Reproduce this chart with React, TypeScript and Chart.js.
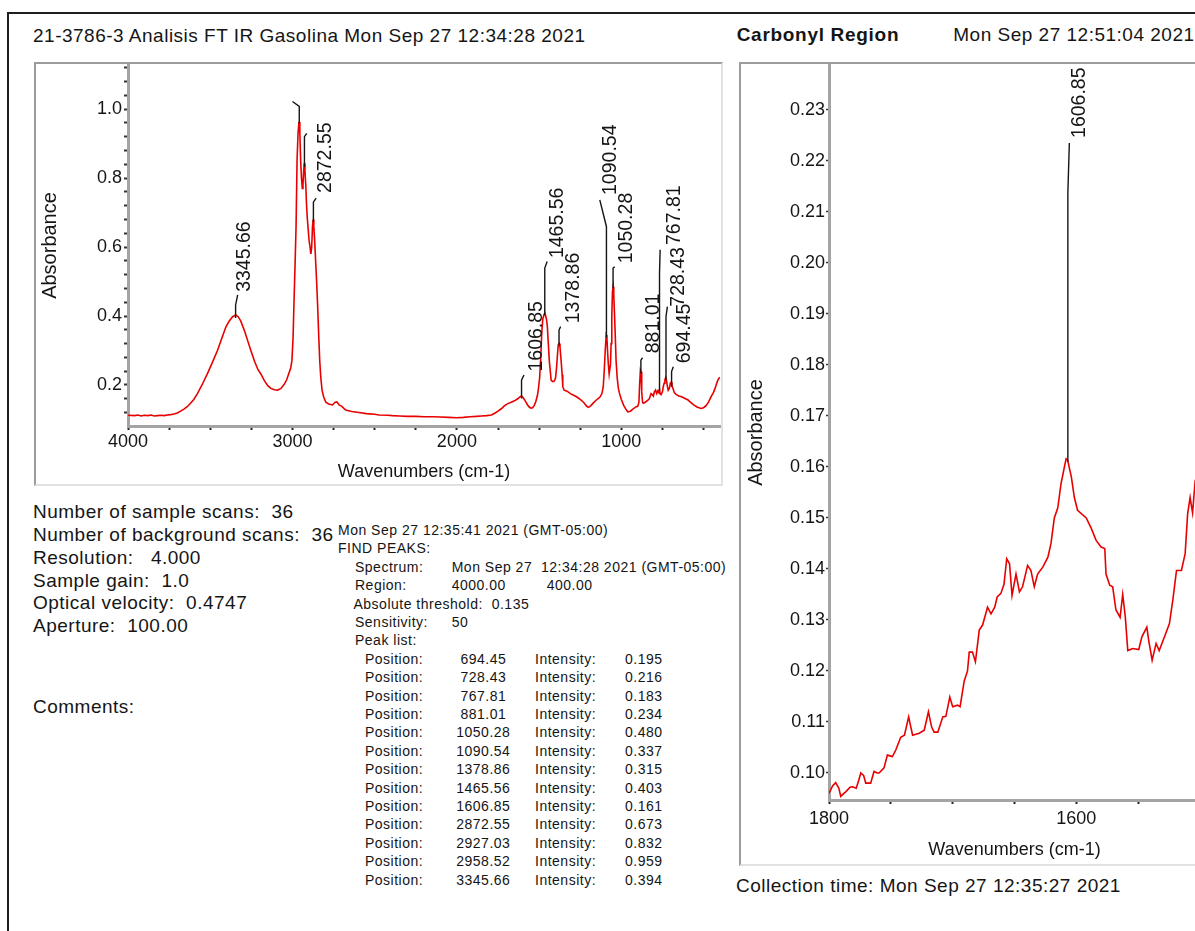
import React, { useEffect, useRef } from 'react';
import { Chart, registerables } from 'chart.js';

Chart.register(...registerables);

const FONT = 'Arial, "Liberation Sans", Helvetica, sans-serif';
Chart.defaults.font.family = FONT;

// ---------- Main spectrum (wavenumber cm-1, absorbance) ----------
const mainSpectrum: [number, number][] = [
  [4000, 0.112], [3960, 0.111], [3940, 0.113], [3920, 0.110], [3900, 0.112], [3880, 0.111],
  [3860, 0.113], [3840, 0.110], [3820, 0.111], [3800, 0.112], [3780, 0.111], [3760, 0.113],
  [3740, 0.114], [3720, 0.116], [3700, 0.119], [3680, 0.124], [3660, 0.130], [3640, 0.137],
  [3620, 0.147], [3600, 0.158], [3578, 0.175], [3550, 0.200], [3517, 0.233], [3490, 0.262],
  [3456, 0.300], [3430, 0.335], [3405, 0.368], [3385, 0.385], [3364, 0.398], [3345, 0.403],
  [3330, 0.398], [3314, 0.385], [3290, 0.355], [3270, 0.325], [3253, 0.300], [3230, 0.268],
  [3210, 0.245], [3192, 0.232], [3170, 0.212], [3150, 0.198], [3131, 0.190], [3110, 0.186],
  [3090, 0.185], [3070, 0.190], [3050, 0.202], [3035, 0.215], [3020, 0.236], [3010, 0.250],
  [3003, 0.272], [2996, 0.340], [2990, 0.450], [2984, 0.550], [2978, 0.660], [2972, 0.850],
  [2966, 0.930], [2960, 0.963], [2955, 0.930], [2950, 0.850], [2945, 0.800], [2940, 0.770],
  [2936, 0.780], [2932, 0.820], [2928, 0.843], [2924, 0.820], [2919, 0.780], [2914, 0.720],
  [2909, 0.680], [2904, 0.650], [2899, 0.620], [2893, 0.600], [2888, 0.580], [2883, 0.600],
  [2878, 0.660], [2874, 0.680], [2870, 0.660], [2865, 0.620], [2858, 0.550], [2852, 0.490],
  [2846, 0.420], [2840, 0.340], [2834, 0.270], [2828, 0.224], [2820, 0.185], [2810, 0.165],
  [2797, 0.150], [2780, 0.145], [2757, 0.142], [2740, 0.150], [2730, 0.151], [2716, 0.142],
  [2700, 0.138], [2676, 0.127], [2640, 0.123], [2595, 0.120], [2550, 0.117], [2500, 0.115],
  [2474, 0.113], [2420, 0.112], [2393, 0.111], [2350, 0.110], [2300, 0.109], [2250, 0.109],
  [2200, 0.108], [2150, 0.108], [2100, 0.107], [2050, 0.106], [2000, 0.105], [1960, 0.106],
  [1920, 0.108], [1880, 0.109], [1850, 0.110], [1820, 0.111], [1790, 0.113], [1770, 0.118],
  [1750, 0.124], [1730, 0.131], [1710, 0.140], [1690, 0.146], [1670, 0.150], [1650, 0.154],
  [1630, 0.160], [1615, 0.166], [1607, 0.168], [1600, 0.165], [1590, 0.158], [1580, 0.150],
  [1570, 0.142], [1560, 0.136], [1550, 0.133], [1540, 0.134], [1530, 0.140], [1520, 0.152],
  [1510, 0.170], [1504, 0.190], [1497, 0.220], [1490, 0.280], [1484, 0.350], [1478, 0.390],
  [1470, 0.405], [1465, 0.408], [1460, 0.400], [1455, 0.390], [1450, 0.370], [1444, 0.320],
  [1438, 0.270], [1432, 0.240], [1427, 0.214], [1418, 0.210], [1408, 0.211], [1400, 0.220],
  [1394, 0.250], [1388, 0.290], [1384, 0.315], [1379, 0.320], [1373, 0.310], [1366, 0.270],
  [1360, 0.230], [1356, 0.195], [1348, 0.185], [1330, 0.182], [1310, 0.175], [1290, 0.170],
  [1270, 0.165], [1250, 0.158], [1230, 0.150], [1210, 0.138], [1200, 0.135], [1185, 0.140],
  [1170, 0.148], [1155, 0.155], [1143, 0.160], [1130, 0.165], [1118, 0.175], [1110, 0.195],
  [1104, 0.240], [1098, 0.300], [1092, 0.345], [1088, 0.340], [1084, 0.300], [1079, 0.260],
  [1074, 0.232], [1070, 0.232], [1066, 0.260], [1062, 0.320], [1058, 0.400], [1054, 0.470],
  [1050, 0.485], [1046, 0.460], [1041, 0.400], [1036, 0.330], [1032, 0.270], [1025, 0.220],
  [1018, 0.190], [1012, 0.177], [1000, 0.158], [985, 0.140], [970, 0.128], [961, 0.122],
  [945, 0.124], [930, 0.130], [910, 0.137], [900, 0.138], [893, 0.150], [889, 0.200],
  [884, 0.243], [880, 0.238], [876, 0.180], [871, 0.150], [866, 0.147], [855, 0.150],
  [840, 0.155], [830, 0.160], [819, 0.175], [812, 0.172], [805, 0.168], [799, 0.180],
  [792, 0.185], [785, 0.175], [778, 0.183], [772, 0.178], [768, 0.187], [764, 0.175],
  [758, 0.172], [750, 0.180], [745, 0.195], [740, 0.205], [735, 0.215], [730, 0.222],
  [726, 0.215], [720, 0.196], [715, 0.185], [708, 0.190], [702, 0.205], [696, 0.208],
  [692, 0.198], [686, 0.190], [677, 0.177], [665, 0.172], [650, 0.168], [630, 0.165],
  [610, 0.160], [596, 0.157], [580, 0.150], [560, 0.142], [540, 0.136], [515, 0.132],
  [500, 0.134], [485, 0.140], [470, 0.150], [454, 0.166], [440, 0.178], [430, 0.190],
  [420, 0.205], [413, 0.214], [405, 0.220], [400, 0.222],
];

// ---------- Carbonyl region (1800-1500 cm-1) ----------
const carbonylSpectrum: [number, number][] = [
  [1800, 0.0960], [1797, 0.0975], [1794.6, 0.0981], [1792, 0.0970], [1790.5, 0.0954], [1788, 0.0960],
  [1786.5, 0.0963], [1783, 0.0972], [1781, 0.0973], [1778, 0.0970], [1776, 0.0985], [1774.3, 0.1000],
  [1772, 0.0995], [1770.3, 0.0980], [1766.3, 0.0980], [1763.6, 0.1003], [1761, 0.1000], [1759.5, 0.1000],
  [1755.5, 0.1010], [1752.8, 0.1035], [1750, 0.1033], [1748.7, 0.1032], [1746, 0.1045], [1742, 0.1070],
  [1739, 0.1074], [1735.6, 0.1110], [1732.4, 0.1074], [1727, 0.1078], [1723, 0.1084], [1719.6, 0.1120],
  [1717, 0.1090], [1715, 0.1080], [1712, 0.1080], [1708, 0.1110], [1705.5, 0.1111], [1702.3, 0.1149],
  [1700, 0.1130], [1696, 0.1133], [1694, 0.1130], [1690.7, 0.1180], [1688, 0.1200], [1686.6, 0.1237],
  [1684, 0.1237], [1681.6, 0.1218], [1678.5, 0.1280], [1675.8, 0.1290], [1671.8, 0.1325], [1669, 0.1312],
  [1666, 0.1325], [1664, 0.1345], [1661, 0.1352], [1658.5, 0.1370], [1656.3, 0.1420], [1654, 0.1410],
  [1652, 0.1348], [1648.8, 0.1390], [1646, 0.1355], [1643.5, 0.1365], [1639.4, 0.1407], [1636.7, 0.1397],
  [1634, 0.1365], [1631.3, 0.1390], [1627, 0.1404], [1623, 0.1423], [1620.5, 0.1450], [1617.8, 0.1500],
  [1615, 0.1520], [1612.4, 0.1567], [1608.3, 0.1616], [1607, 0.1613], [1604, 0.1580], [1601.6, 0.1540],
  [1599, 0.1515], [1592, 0.1500], [1588, 0.1480], [1584, 0.1456], [1580, 0.1443], [1577, 0.1440],
  [1576, 0.1390], [1573, 0.1368], [1570.6, 0.1365], [1568, 0.1320], [1564.6, 0.1305], [1562.5, 0.1350],
  [1560.4, 0.1306], [1558.4, 0.1240], [1554.4, 0.1244], [1549.5, 0.1242], [1547, 0.1267], [1543, 0.1286],
  [1541.5, 0.1260], [1538.7, 0.1221], [1535.5, 0.1254], [1533, 0.1240], [1528.7, 0.1267], [1524.7, 0.1293],
  [1522, 0.1339], [1519, 0.1397], [1515, 0.1397], [1512, 0.1430], [1510, 0.1508], [1508, 0.1540],
  [1506, 0.1510], [1504, 0.1570], [1502, 0.1560], [1500, 0.1580],
];

// ---------- Peak list ----------
const peakPositions = [694.45, 728.43, 767.81, 881.01, 1050.28, 1090.54, 1378.86, 1465.56, 1606.85, 2872.55, 2927.03, 2958.52, 3345.66];
const peakIntensities = [0.195, 0.216, 0.183, 0.234, 0.480, 0.337, 0.315, 0.403, 0.161, 0.673, 0.832, 0.959, 0.394];
// peak-label placement (as drawn by the software), in data units
const leaderTops = [0.239, 0.398, 0.524, 0.272, 0.539, 0.659, 0.360, 0.539, 0.214, 0.730, 0.920, 1.008, 0.432];
const hookWavenumbers = [684, 720, 764, 871, 1040, 1131, 1369, 1451, 1592, 2856, 2913, 3000, 3333];
const hookTops = [0.253, 0.427, 0.592, 0.279, 0.543, 0.737, 0.369, 0.558, 0.229, 0.742, 0.930, 1.022, 0.461];
const labelWavenumbers = [617, 651, 678, 803, 966, 1063, 1290, 1387, 1513, 2796, null, null, 3288];
const labelBases = [0.263, 0.427, 0.606, 0.292, 0.553, 0.751, 0.379, 0.568, 0.239, 0.757, null, null, 0.470];

// carbonyl-region peak marker
const carbonylPeak = 1606.85;
const carbonylPeakIntensity = 0.161;
const carbonylLeaderTop = 0.2137;
const carbonylHookTop = 0.2235;
const carbonylLabelWavenumber = 1597;
const carbonylLabelBase = 0.2245;

// ---------- Texts ----------
const infoLines = [
  'Number of sample scans:  36',
  'Number of background scans:  36',
  'Resolution:   4.000',
  'Sample gain:  1.0',
  'Optical velocity:  0.4747',
  'Aperture:  100.00',
];

type Marker = { pos: number; base: number; top: number; hookX: number; hookTop: number; label: string | null; labelX: number | null; labelBase: number | null };

const mainMarkers: Marker[] = peakPositions.map((p, i) => ({
  pos: p, base: peakIntensities[i], top: leaderTops[i], hookX: hookWavenumbers[i], hookTop: hookTops[i],
  label: labelWavenumbers[i] === null ? null : p.toFixed(2), labelX: labelWavenumbers[i], labelBase: labelBases[i],
}));

const carbonylMarkers: Marker[] = [{
  pos: carbonylPeak, base: carbonylPeakIntensity, top: carbonylLeaderTop, hookX: carbonylPeak - 1.2, hookTop: carbonylHookTop,
  label: carbonylPeak.toFixed(2), labelX: carbonylLabelWavenumber, labelBase: carbonylLabelBase,
}];

function markerPlugin(markers: Marker[]) {
  return {
    id: 'peakMarkers',
    afterDatasetsDraw(chart: any) {
      const { ctx, scales } = chart;
      const x = scales.x, y = scales.y;
      ctx.save();
      ctx.strokeStyle = '#151515';
      ctx.lineWidth = 1.4;
      markers.forEach((m) => {
        const px = x.getPixelForValue(m.pos);
        ctx.beginPath();
        ctx.moveTo(px, y.getPixelForValue(m.base));
        ctx.lineTo(px, y.getPixelForValue(m.top));
        ctx.lineTo(x.getPixelForValue(m.hookX), y.getPixelForValue(m.hookTop));
        ctx.stroke();
        if (m.label && m.labelX !== null && m.labelBase !== null) {
          ctx.save();
          ctx.translate(x.getPixelForValue(m.labelX), y.getPixelForValue(m.labelBase));
          ctx.rotate(-Math.PI / 2);
          ctx.font = `19.5px ${FONT}`;
          ctx.fillStyle = '#151515';
          ctx.textAlign = 'left';
          ctx.textBaseline = 'middle';
          ctx.fillText(m.label, 0, 0);
          ctx.restore();
        }
      });
      ctx.restore();
    },
  };
}

const TXT = '#151515';
const AXIS_GRAY = '#a4a4a4';

function fixX(h: number) {
  return (s: any) => { s.height = h; s.paddingLeft = 0; s.paddingRight = 0; };
}
function fixY(w: number) {
  return (s: any) => { s.width = w; s.paddingTop = 0; s.paddingBottom = 0; };
}

function mainConfig(): any {
  return {
    type: 'line',
    data: {
      datasets: [{
        data: mainSpectrum.map(([x, y]) => ({ x, y })),
        borderColor: 'rgb(232,0,0)', borderWidth: 1.6, pointRadius: 0, tension: 0, fill: false,
      }],
    },
    options: {
      responsive: false, animation: false,
      layout: { padding: { left: 0, right: 1, top: 1, bottom: 0 } },
      plugins: { legend: { display: false }, tooltip: { enabled: false } },
      scales: {
        x: {
          type: 'linear', reverse: true, min: 400, max: 4000,
          afterFit: fixX(58),
          ticks: {
            stepSize: 250, autoSkip: false, maxRotation: 0, includeBounds: false, padding: 1,
            color: TXT, font: { size: 18 },
            callback: (v: number) => (v % 1000 === 0 ? String(v) : ''),
          },
          grid: { drawOnChartArea: false, drawTicks: true, tickLength: 4, tickColor: '#222', tickWidth: 2 },
          border: { display: true, color: AXIS_GRAY, width: 3 },
          title: { display: true, text: 'Wavenumbers (cm-1)', color: TXT, font: { size: 18 }, padding: { top: 0, bottom: 1 } },
        },
        y: {
          min: 0.081, max: 1.128,
          afterFit: fixY(92),
          ticks: {
            stepSize: 0.04, autoSkip: false, includeBounds: false, padding: 2,
            color: TXT, font: { size: 18 },
            callback: (v: number) => {
              const r = Math.round(v * 100) / 100;
              return Math.abs(r * 5 - Math.round(r * 5)) < 1e-6 ? r.toFixed(1) : '';
            },
          },
          grid: { drawOnChartArea: false, drawTicks: true, tickLength: 4, tickColor: '#333', tickWidth: 2 },
          border: { display: true, color: AXIS_GRAY, width: 3 },
          title: { display: true, text: 'Absorbance', color: TXT, font: { size: 20 }, padding: { top: 2, bottom: 0 } },
        },
      },
    },
    plugins: [markerPlugin(mainMarkers)],
  };
}

function carbonylConfig(): any {
  return {
    type: 'line',
    data: {
      datasets: [{
        data: carbonylSpectrum.map(([x, y]) => ({ x, y })),
        borderColor: 'rgb(232,0,0)', borderWidth: 1.6, pointRadius: 0, tension: 0, fill: false,
      }],
    },
    options: {
      responsive: false, animation: false,
      layout: { padding: { left: 0, right: 11, top: 1, bottom: 0 } },
      plugins: { legend: { display: false }, tooltip: { enabled: false } },
      scales: {
        x: {
          type: 'linear', reverse: true, min: 1500, max: 1800,
          afterFit: fixX(64),
          ticks: {
            stepSize: 50, autoSkip: false, maxRotation: 0, includeBounds: false, padding: 4,
            color: TXT, font: { size: 18 },
            callback: (v: number) => (v % 200 === 0 ? String(v) : ''),
          },
          grid: { drawOnChartArea: false, drawTicks: true, tickLength: 4, tickColor: '#222', tickWidth: 2 },
          border: { display: true, color: AXIS_GRAY, width: 3 },
          title: { display: true, text: 'Wavenumbers (cm-1)', color: TXT, font: { size: 18 }, padding: { top: 0, bottom: 3 } },
        },
        y: {
          min: 0.0947, max: 0.2388,
          afterFit: fixY(88),
          ticks: {
            stepSize: 0.01, autoSkip: false, includeBounds: false, padding: 1,
            color: TXT, font: { size: 18 },
            callback: (v: number) => v.toFixed(2),
          },
          grid: { drawOnChartArea: false, drawTicks: true, tickLength: 3, tickColor: '#333', tickWidth: 1.5 },
          border: { display: true, color: AXIS_GRAY, width: 3 },
          title: { display: true, text: 'Absorbance', color: TXT, font: { size: 20 }, padding: { top: 3, bottom: 0 } },
        },
      },
    },
    plugins: [markerPlugin(carbonylMarkers)],
  };
}

const big: React.CSSProperties = {
  position: 'absolute', fontFamily: FONT, color: TXT, whiteSpace: 'pre',
  fontSize: 19, lineHeight: '22.7px', letterSpacing: '0.5px',
};
const small: React.CSSProperties = {
  position: 'absolute', fontFamily: FONT, color: TXT, whiteSpace: 'pre',
  fontSize: 14, lineHeight: '18.4px', letterSpacing: '0.5px',
};
const frame: React.CSSProperties = {
  position: 'absolute', borderStyle: 'solid', borderWidth: 2,
  borderColor: '#9c9c9c #e2e2e2 #e2e2e2 #9c9c9c', background: '#fff',
};

export default function App() {
  const mainRef = useRef<HTMLCanvasElement>(null);
  const carbRef = useRef<HTMLCanvasElement>(null);

  useEffect(() => {
    const c1 = new Chart(mainRef.current as HTMLCanvasElement, mainConfig());
    const c2 = new Chart(carbRef.current as HTMLCanvasElement, carbonylConfig());
    return () => { c1.destroy(); c2.destroy(); };
  }, []);

  const fpTop = 521;
  const row = 18.4;
  const fpLines: { t: string; x: number; r: number; center?: boolean }[] = [
    { t: 'Mon Sep 27 12:35:41 2021 (GMT-05:00)', x: 338, r: 0 },
    { t: 'FIND PEAKS:', x: 338, r: 1 },
    { t: 'Spectrum:', x: 355, r: 2 },
    { t: 'Mon Sep 27  12:34:28 2021 (GMT-05:00)', x: 451.7, r: 2 },
    { t: 'Region:', x: 355, r: 3 },
    { t: '4000.00', x: 451.7, r: 3 },
    { t: '400.00', x: 546.7, r: 3 },
    { t: 'Absolute threshold:', x: 353.5, r: 4 },
    { t: '0.135', x: 491.7, r: 4 },
    { t: 'Sensitivity:', x: 355, r: 5 },
    { t: '50', x: 451.7, r: 5 },
    { t: 'Peak list:', x: 355, r: 6 },
  ];
  peakPositions.forEach((p, i) => {
    fpLines.push({ t: 'Position:', x: 365, r: 7 + i });
    fpLines.push({ t: p.toFixed(2), x: 483.3, r: 7 + i, center: true });
    fpLines.push({ t: 'Intensity:', x: 535, r: 7 + i });
    fpLines.push({ t: peakIntensities[i].toFixed(3), x: 625, r: 7 + i });
  });

  return (
    <div style={{ position: 'fixed', left: 0, top: 0, width: 1195, height: 931, overflow: 'hidden', background: '#fff' }}>
      <div style={{ position: 'absolute', left: 7, top: 12, width: 1188, height: 2, background: '#1e1e1e' }} />
      <div style={{ position: 'absolute', left: 7, top: 12, width: 2, height: 919, background: '#1e1e1e' }} />

      <div style={{ ...big, left: 33, top: 25.4 }}>21-3786-3 Analisis FT IR Gasolina Mon Sep 27 12:34:28 2021</div>
      <div style={{ ...big, left: 736.7, top: 23.8, fontWeight: 'bold', letterSpacing: '0.7px' }}>Carbonyl Region</div>
      <div style={{ ...big, left: 953.3, top: 23.8 }}>Mon Sep 27 12:51:04 2021</div>

      <div style={{ ...frame, left: 34, top: 62, width: 685, height: 420 }}>
        <canvas ref={mainRef} width={685} height={420} style={{ display: 'block' }} />
      </div>
      <div style={{ ...frame, left: 739, top: 62, width: 470, height: 800 }}>
        <canvas ref={carbRef} width={470} height={800} style={{ display: 'block' }} />
      </div>

      {infoLines.map((t, i) => (
        <div key={t} style={{ ...big, left: 33, top: 501.4 + i * 22.7 }}>{t}</div>
      ))}
      <div style={{ ...big, left: 33, top: 696 }}>Comments:</div>

      {fpLines.map((l, i) => (
        <div key={i} style={{ ...small, left: l.x, top: fpTop + l.r * row, transform: l.center ? 'translateX(-50%)' : undefined }}>{l.t}</div>
      ))}

      <div style={{ ...big, left: 736, top: 875.4 }}>Collection time: Mon Sep 27 12:35:27 2021</div>
    </div>
  );
}
